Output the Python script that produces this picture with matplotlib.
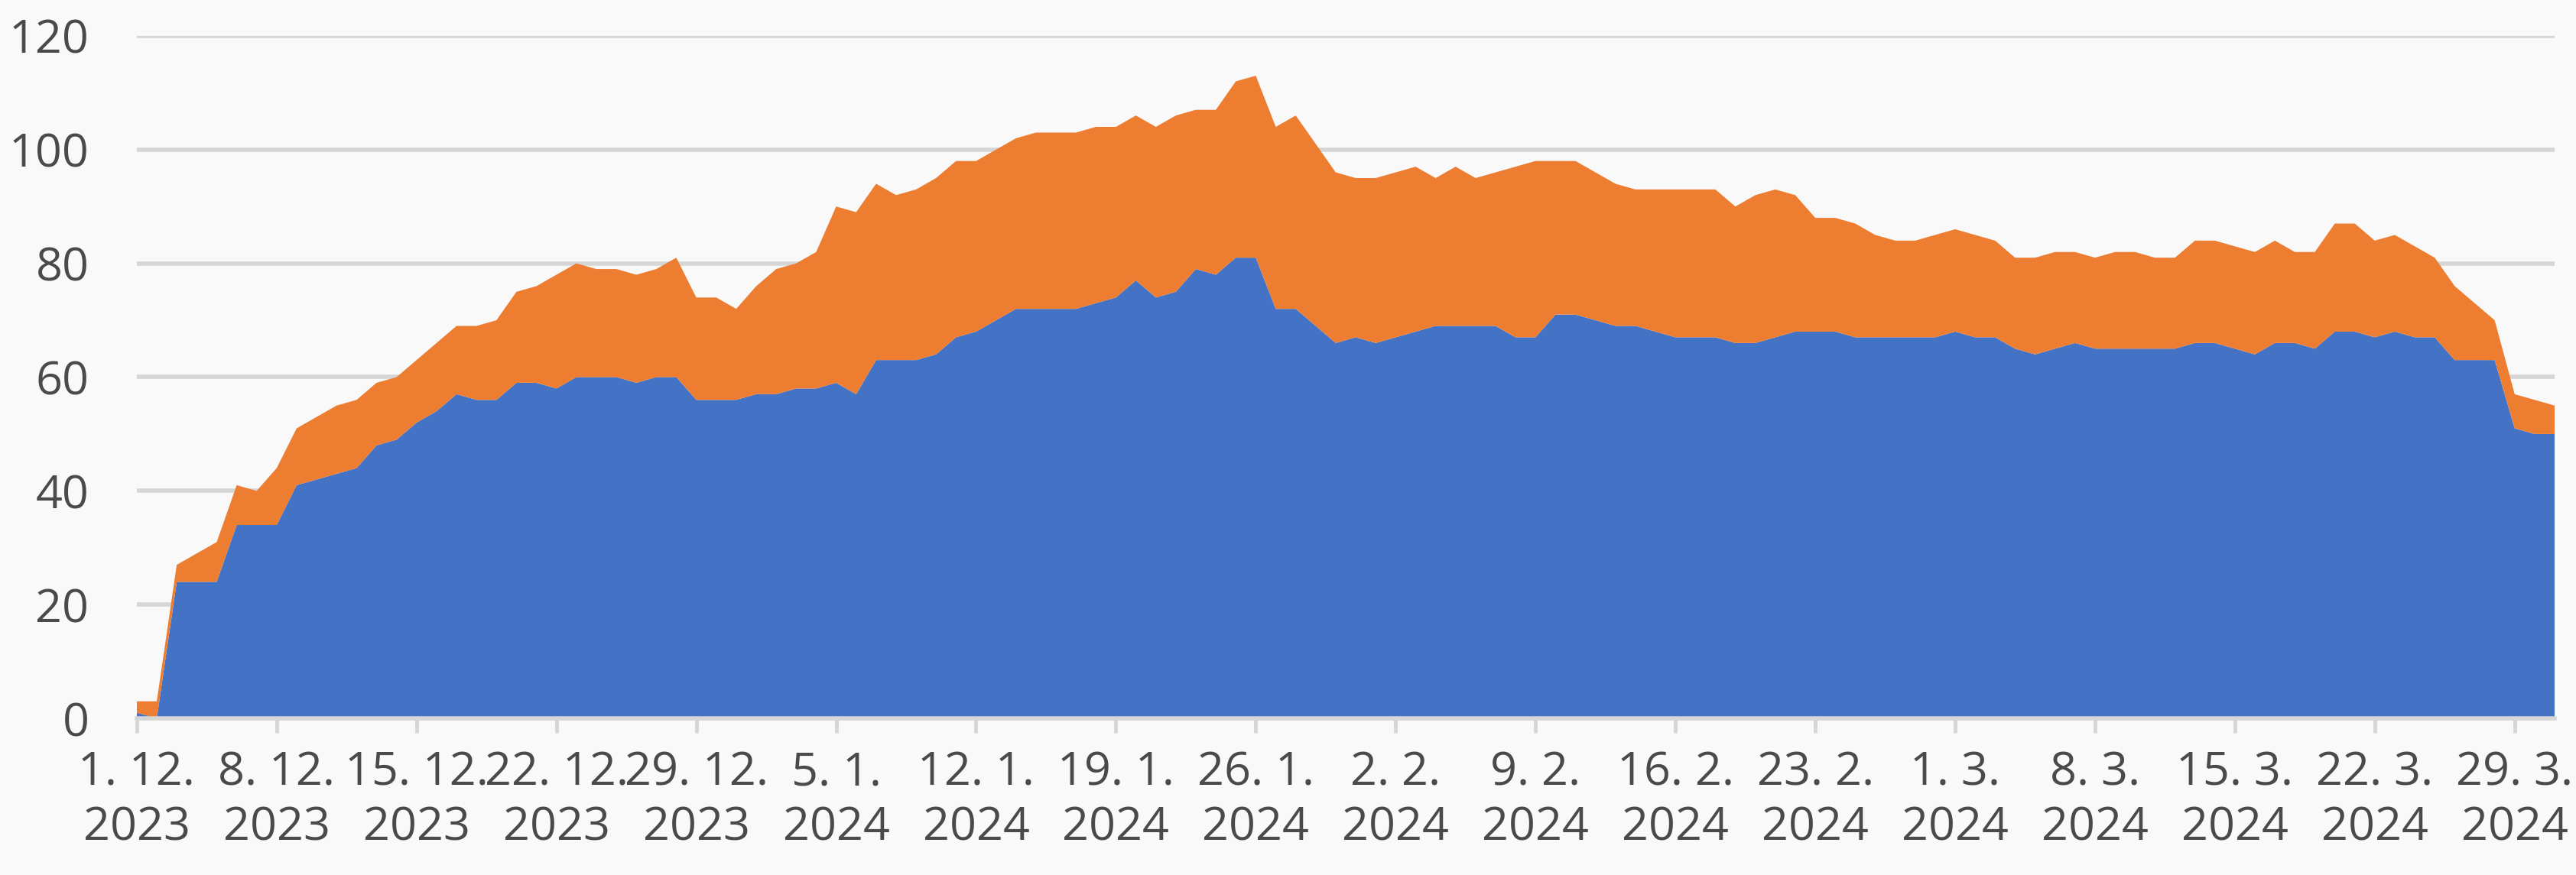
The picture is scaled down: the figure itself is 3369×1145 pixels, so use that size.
import matplotlib
matplotlib.use("Agg")
import matplotlib.pyplot as plt
import pandas as pd

# daily values, 1. 12. 2023 - 31. 3. 2024
start_date = "2023-12-01"

blue = [1, 0, 24, 24, 24, 34, 34, 34, 41, 42, 43, 44, 48, 49, 52, 54,
        57, 56, 56, 59, 59, 58, 60, 60, 60, 59, 60, 60, 56, 56, 56,
        57, 57, 58, 58, 59, 57, 63, 63, 63, 64, 67, 68, 70, 72, 72,
        72, 72, 73, 74, 77, 74, 75, 79, 78, 81, 81, 72, 72, 69, 66,
        67, 66, 67, 68, 69, 69, 69, 69, 67, 67, 71, 71, 70, 69, 69,
        68, 67, 67, 67, 66, 66, 67, 68, 68, 68, 67, 67, 67, 67, 67,
        68, 67, 67, 65, 64, 65, 66, 65, 65, 65, 65, 65, 66, 66, 65,
        64, 66, 66, 65, 68, 68, 67, 68, 67, 67, 63, 63, 63, 51, 50, 50]

orange = [2, 3, 3, 5, 7, 7, 6, 10, 10, 11, 12, 12, 11, 11, 11, 12,
          12, 13, 14, 16, 17, 20, 20, 19, 19, 19, 19, 21, 18, 18, 16,
          19, 22, 22, 24, 31, 32, 31, 29, 30, 31, 31, 30, 30, 30, 31,
          31, 31, 31, 30, 29, 30, 31, 28, 29, 31, 32, 32, 34, 32, 30,
          28, 29, 29, 29, 26, 28, 26, 27, 30, 31, 27, 27, 26, 25, 24,
          25, 26, 26, 26, 24, 26, 26, 24, 20, 20, 20, 18, 17, 17, 18,
          18, 18, 17, 16, 17, 17, 16, 16, 17, 17, 16, 16, 18, 18, 18,
          18, 18, 16, 17, 19, 19, 17, 17, 16, 14, 13, 10, 7, 6, 6, 5]

y_ticks = [0, 20, 40, 60, 80, 100, 120]

dates = pd.date_range(start_date, periods=len(blue), freq="D")
tick_dates = dates[::7]
tick_labels = [f"{d.day}. {d.month}.\n{d.year}" for d in tick_dates]

text_col = "#4a4a4a"
grid_col = "#d6d6d6"
bg = "#f9f9f9"

plt.rcParams["font.family"] = ["Open Sans", "DejaVu Sans"]

fig = plt.figure(figsize=(33.69, 11.45), dpi=100, facecolor=bg)
ax = fig.add_axes([0.0531, 0.179, 0.9386, 0.780])
ax.set_facecolor(bg)

ax.stackplot(dates, blue, orange, colors=["#4472C4", "#ED7D31"],
             linewidth=0, zorder=2)

ax.set_xlim(dates[0], dates[-1])
ax.set_ylim(0, 120)
ax.set_yticks(y_ticks)
ax.yaxis.grid(True, color=grid_col, linewidth=4, zorder=1)
ax.set_axisbelow(True)

ax.set_xticks(tick_dates)
ax.set_xticklabels(tick_labels, linespacing=1.25)

for s in ["top", "right", "left"]:
    ax.spines[s].set_visible(False)
ax.spines["bottom"].set_color(grid_col)
ax.spines["bottom"].set_linewidth(4)
ax.spines["bottom"].set_zorder(3)

ax.tick_params(axis="y", length=0, pad=45, labelsize=44, labelcolor=text_col)
ax.tick_params(axis="x", length=14, width=3.5, color=grid_col, pad=16,
               labelsize=44, labelcolor=text_col)

fig.savefig("out.png", dpi=100, facecolor=bg)
